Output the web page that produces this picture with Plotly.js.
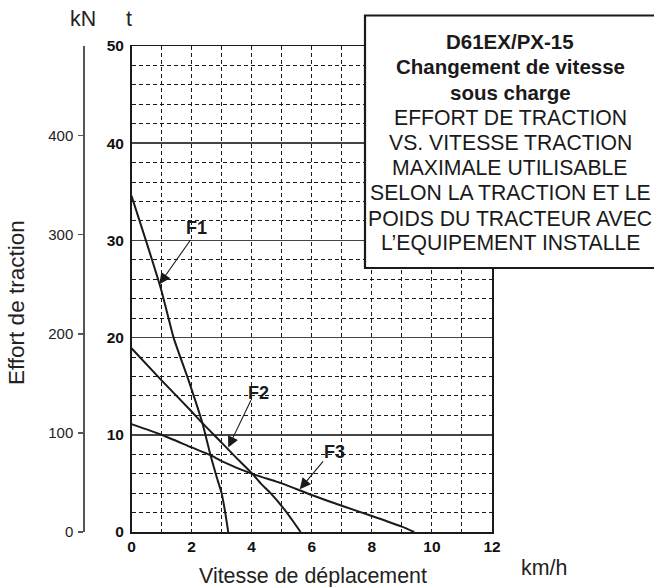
<!DOCTYPE html>
<html>
<head>
<meta charset="utf-8">
<script src="https://cdn.plot.ly/plotly-3.0.1.min.js"></script>
<style>html,body{margin:0;padding:0;background:#fff;}#chart{width:654px;height:587px;}</style>
</head>
<body>
<div id="chart"></div>
<script>
// ---- data (speed km/h, force t) ----
const speedF1 = [0, 0.5, 1.0, 1.4, 1.9, 2.36, 2.63, 2.85, 3.0, 3.12, 3.22];
const forceF1 = [34.6, 29.8, 24.8, 20.0, 15.6, 11.2, 7.9, 5.5, 4.0, 2.0, 0];
const speedF2 = [0, 1.0, 2.0, 2.36, 3.0, 3.5, 4.02, 4.3, 4.63, 5.17, 5.4, 5.63];
const forceF2 = [18.9, 15.6, 12.4, 11.2, 9.2, 7.6, 6.0, 5.0, 4.0, 2.0, 1.0, 0];
const speedF3 = [0, 1.0, 2.0, 2.63, 3.0, 4.0, 5.0, 6.0, 7.0, 8.0, 9.0, 9.41];
const forceF3 = [11.1, 10.0, 8.7, 7.9, 7.3, 6.0, 5.0, 3.8, 2.7, 1.65, 0.55, 0];
const seriesNames = ['F1', 'F2', 'F3'];
// label positions and arrow (tail -> tip) in data units
const labelX = [2.15, 4.22, 6.77];
const labelY = [31.3, 14.3, 8.28];
const arrowTailX = [2.0, 4.0, 6.42];
const arrowTailY = [30.2, 13.7, 7.43];
const arrowTipX = [0.93, 3.22, 5.6];
const arrowTipY = [25.5, 8.7, 4.4];
const tTicks = [0, 10, 20, 30, 40, 50];
const kNTicks = [0, 100, 200, 300, 400];
const speedTicks = [0, 2, 4, 6, 8, 10, 12];
const kNPerTonne = 9.80665;
const boxLines = ['D61EX/PX-15', 'Changement de vitesse', 'sous charge',
  'EFFORT DE TRACTION', 'VS. VITESSE TRACTION', 'MAXIMALE UTILISABLE',
  'SELON LA TRACTION ET LE', 'POIDS DU TRACTEUR AVEC', 'L\u2019EQUIPEMENT INSTALLE'];
const boxBold = [true, true, true, false, false, false, false, false, false];

// ---- layout geometry ----
const W = 654, H = 587;
const mL = 50, mR = 162, mT = 46, mB = 55;
const plotW = W - mL - mR, plotH = H - mT - mB;
const px = x => (x - mL) / plotW;
const py = y => (H - mB - y) / plotH;
const FONT = 'Liberation Sans, Arial, Helvetica, sans-serif';
const INK = '#1a1a1a';

const speeds = [speedF1, speedF2, speedF3];
const forces = [forceF1, forceF2, forceF3];
const traces = seriesNames.map((n, i) => ({
  x: speeds[i], y: forces[i], name: n, type: 'scatter', mode: 'lines',
  line: {color: INK, width: 2, shape: 'spline', smoothing: 0.5},
  hoverinfo: 'x+y+name', showlegend: false
}));
// empty trace so that the kN axis (yaxis2) is drawn
traces.push({x: [], y: [], yaxis: 'y2', type: 'scatter', mode: 'lines', showlegend: false, hoverinfo: 'skip'});

const annotations = [];
seriesNames.forEach((n, i) => {
  annotations.push({x: labelX[i], y: labelY[i], xref: 'x', yref: 'y', text: n,
    showarrow: false, font: {family: FONT, size: 18, weight: 'bold', color: INK}});
  annotations.push({x: arrowTipX[i], y: arrowTipY[i], xref: 'x', yref: 'y',
    ax: arrowTailX[i], ay: arrowTailY[i], axref: 'x', ayref: 'y', text: '',
    showarrow: true, arrowhead: 2, arrowsize: 2, arrowwidth: 1.1, arrowcolor: INK, standoff: 0});
});
boxLines.forEach((t, i) => {
  annotations.push({x: px(510), y: py(41.7 + 25.2 * i), xref: 'paper', yref: 'paper',
    xanchor: 'center', yanchor: 'middle', text: t, showarrow: false,
    font: {family: FONT, size: boxBold[i] ? 20.5 : 21.2, color: INK, weight: boxBold[i] ? 'bold' : 'normal'}});
});
const txt = (text, x, y, extra) => Object.assign({x: px(x), y: py(y), xref: 'paper', yref: 'paper',
  xanchor: 'center', yanchor: 'middle', text, showarrow: false,
  font: {family: FONT, size: 21.4, color: '#222'}}, extra || {});
annotations.push(txt('kN', 82.5, 19));
annotations.push(txt('t', 129, 19));
annotations.push(txt('Effort de traction', 16, 303, {textangle: -90, font: {family: FONT, size: 22.5, color: '#222'}}));
annotations.push(txt('Vitesse de déplacement', 313, 575.5));
annotations.push(txt('km/h', 544, 568));

const layout = {
  width: W, height: H,
  margin: {l: mL, r: mR, t: mT, b: mB, pad: 0},
  paper_bgcolor: '#fff', plot_bgcolor: '#fff',
  font: {family: FONT, color: INK},
  showlegend: false,
  xaxis: {
    domain: [px(131.5), 1], range: [0, 12], tickvals: speedTicks,
    showgrid: true, gridcolor: INK, gridwidth: 1, griddash: '4px,3px',
    minor: {dtick: 1, showgrid: true, gridcolor: INK, gridwidth: 1, griddash: '4px,3px', ticks: ''},
    showline: true, mirror: true, linecolor: INK, linewidth: 1.5,
    ticks: '', zeroline: false, ticklabelstandoff: 0,
    tickfont: {family: FONT, size: 15.5, weight: 'bold', color: '#111'}
  },
  yaxis: {
    range: [0, 50], tickvals: tTicks,
    showgrid: true, gridcolor: '#444', gridwidth: 1.5,
    minor: {dtick: 2, showgrid: true, gridcolor: INK, gridwidth: 1, griddash: '4px,3px', ticks: ''},
    showline: true, mirror: true, linecolor: INK, linewidth: 1.5,
    ticks: '', zeroline: false, ticklabelstandoff: 3,
    tickfont: {family: FONT, size: 15.5, weight: 'bold', color: '#111'}
  },
  yaxis2: {
    overlaying: 'y', anchor: 'free', position: px(83.3), side: 'left',
    range: [0, 50 * kNPerTonne], tickvals: kNTicks,
    showgrid: false, zeroline: false,
    showline: true, linecolor: '#555', linewidth: 1.5,
    ticks: 'outside', ticklen: 5, tickwidth: 1.5, tickcolor: '#555',
    ticklabelstandoff: 2,
    tickfont: {family: FONT, size: 15, color: '#222'}
  },
  shapes: [{type: 'rect', xref: 'paper', yref: 'paper', layer: 'above',
    x0: px(365), x1: px(W + 10), y0: py(268), y1: py(15.5),
    line: {color: INK, width: 2.2}, fillcolor: '#fff'}],
  annotations
};
Plotly.newPlot('chart', traces, layout, {staticPlot: true, displayModeBar: false});
</script>
</body>
</html>
